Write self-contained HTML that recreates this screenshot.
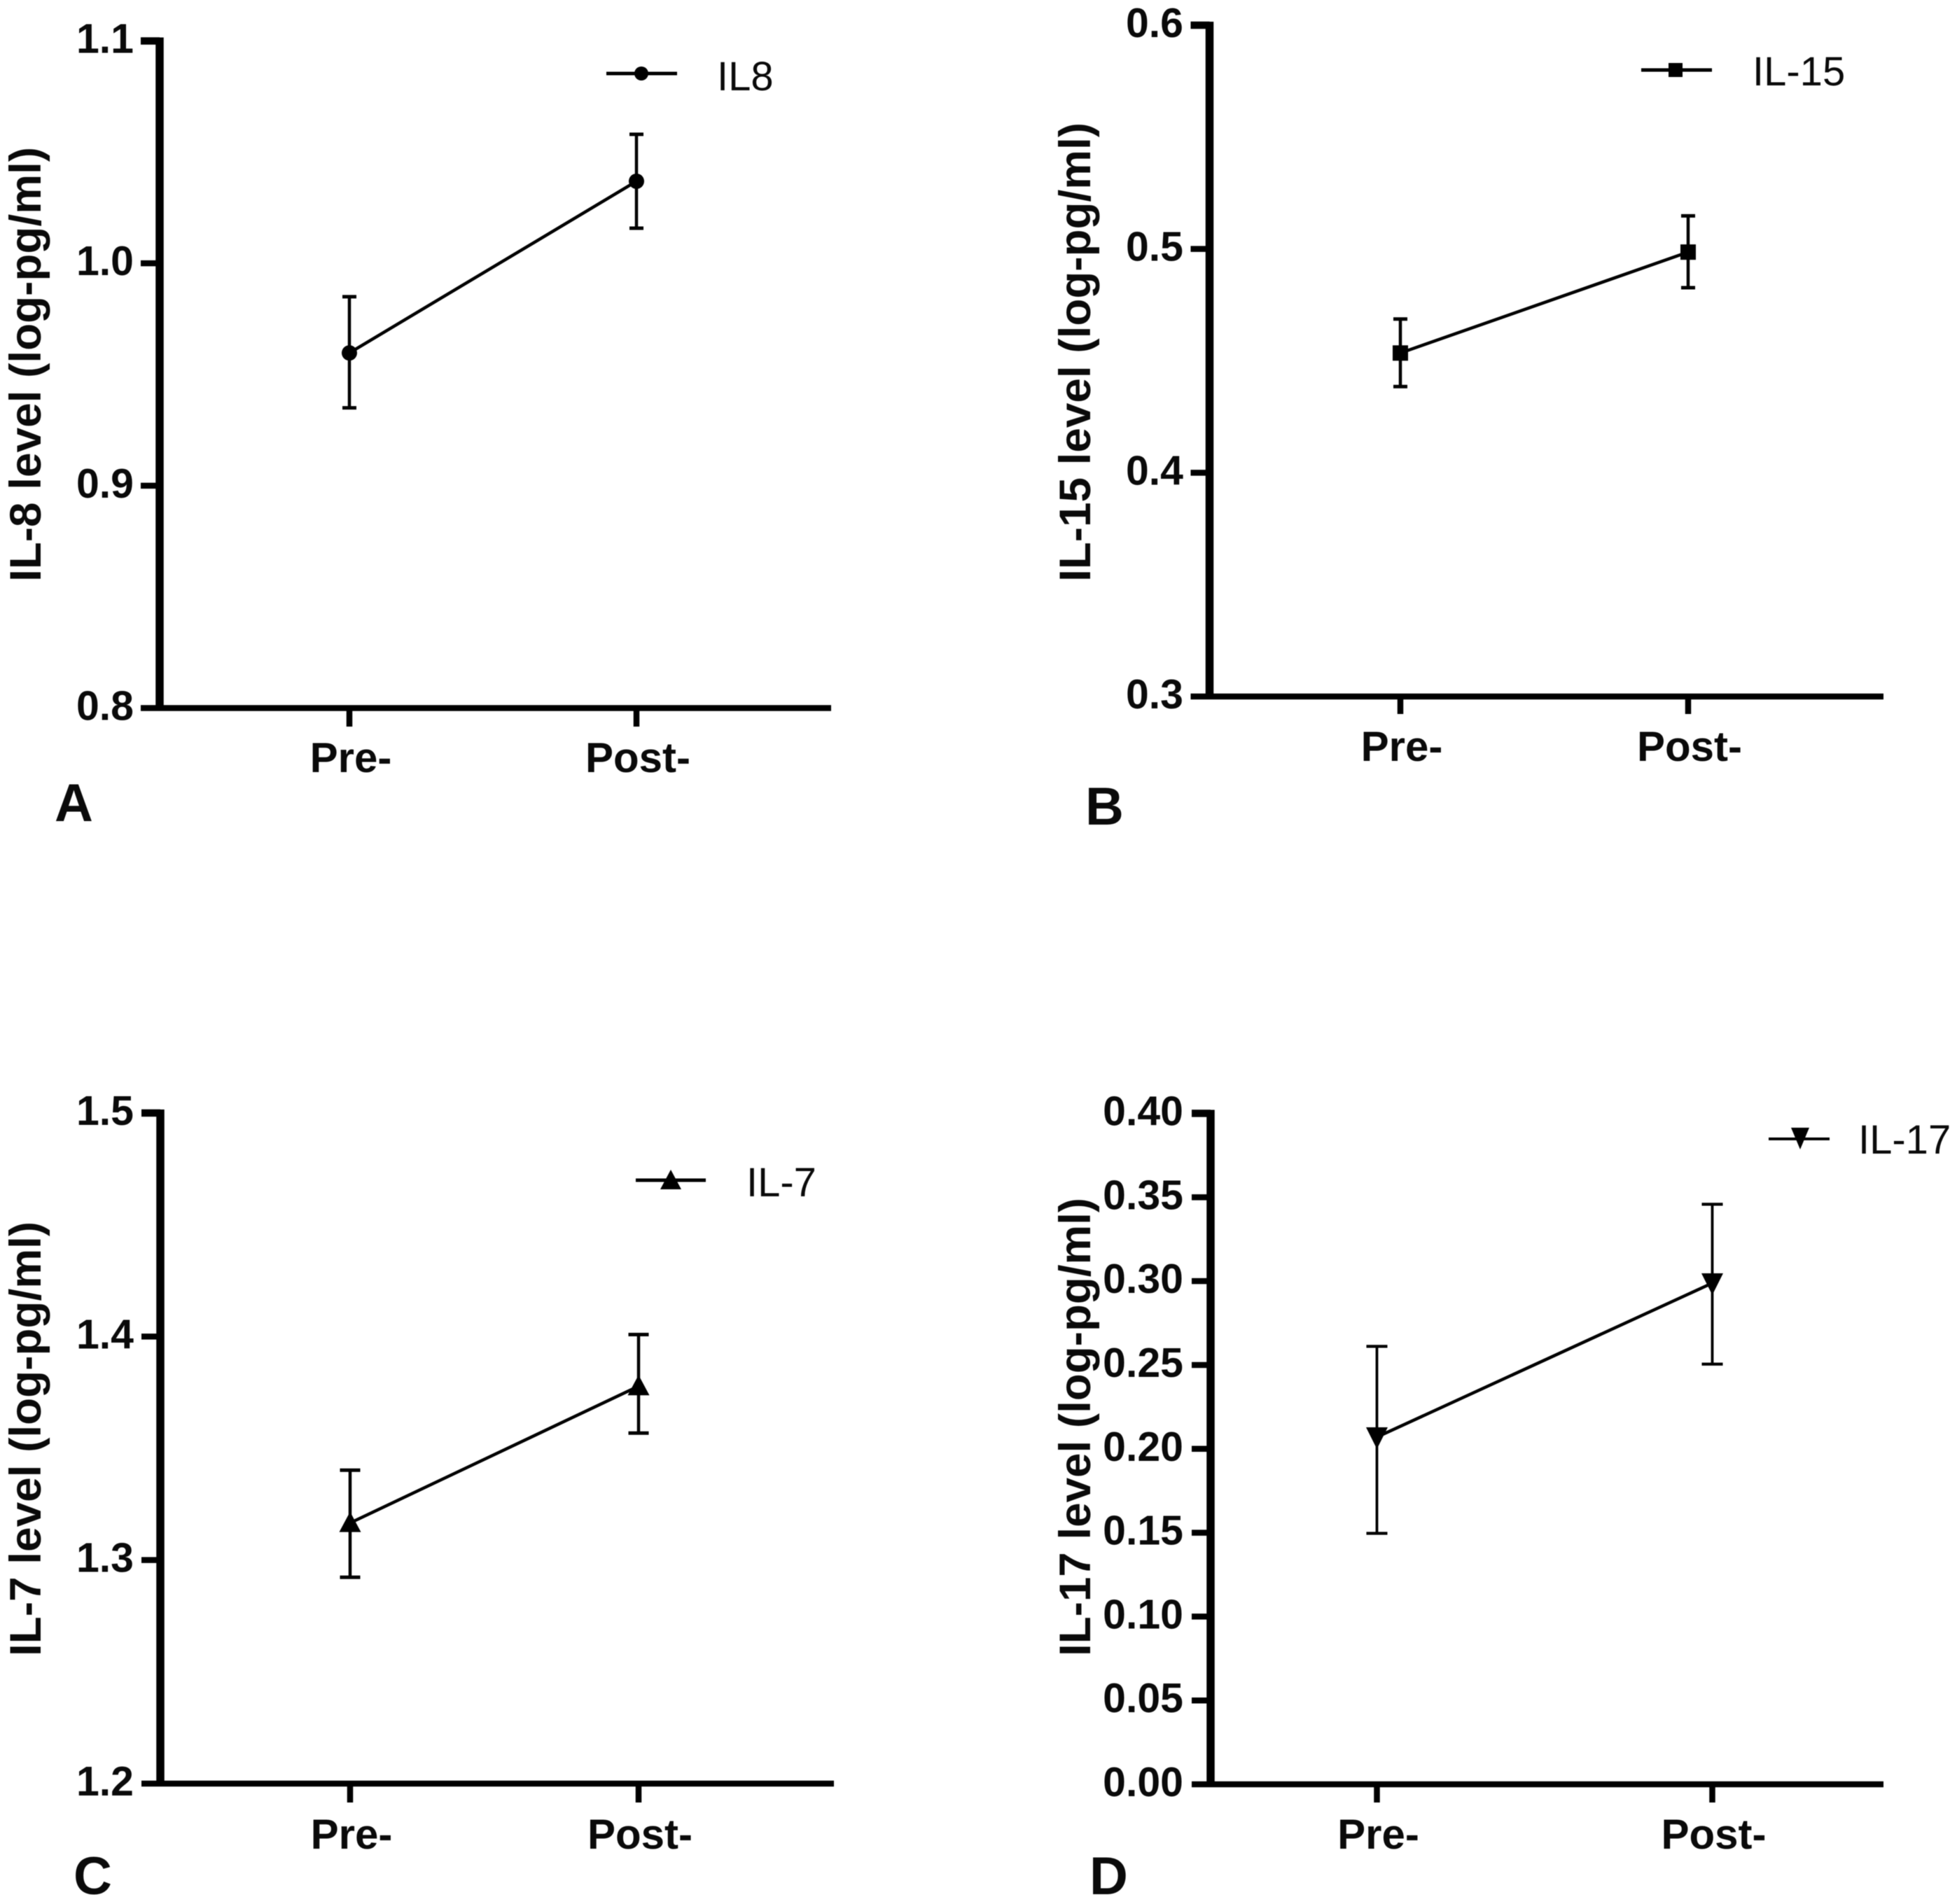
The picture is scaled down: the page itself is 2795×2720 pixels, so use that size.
<!DOCTYPE html>
<html lang="en">
<head>
<meta charset="utf-8">
<title>Cytokine levels pre and post</title>
<style>
  html, body { margin: 0; padding: 0; background: #fff; }
  svg { display: block; filter: blur(0.6px); }
  text { font-family: "Liberation Sans", Arial, sans-serif; fill: #0a0a0a; }
  .title { font-size: 63px; font-weight: 700; }
  .letter { font-size: 76px; font-weight: 700; }
  .legend { font-size: 58px; font-weight: 400; }
  .tick { font-size: 59px; font-weight: 700; text-anchor: end; }
  .cat { font-size: 60px; font-weight: 700; text-anchor: middle; }
</style>
</head>
<body>
<svg id="figure" xmlns="http://www.w3.org/2000/svg" width="2795" height="2720" viewBox="0 0 2795 2720">
  <rect x="0" y="0" width="2795" height="2720" fill="#fff"/>

  <g id="panel-a">
    <text class="title" transform="translate(58,831) rotate(-90)" textLength="621" lengthAdjust="spacingAndGlyphs">IL-8 level (log-pg/ml)</text>
    <line x1="866" y1="105" x2="967" y2="105" stroke="#000" stroke-width="5"/>
    <circle cx="916" cy="105" r="10" fill="#000"/>
    <text class="legend" x="1024" y="129">IL8</text>
    <text class="letter" x="78" y="1173">A</text>
  </g>

  <g id="panel-b">
    <text class="title" transform="translate(1557,831) rotate(-90)" textLength="656" lengthAdjust="spacingAndGlyphs">IL-15 level (log-pg/ml)</text>
    <line x1="2344" y1="100" x2="2445" y2="100" stroke="#000" stroke-width="5"/>
    <rect x="2383" y="90" width="20" height="20" fill="#000"/>
    <text class="legend" x="2503" y="122">IL-15</text>
    <text class="letter" x="1550" y="1178">B</text>
  </g>

  <g id="panel-c">
    <text class="title" transform="translate(58,2366) rotate(-90)" textLength="621" lengthAdjust="spacingAndGlyphs">IL-7 level (log-pg/ml)</text>
    <line x1="908" y1="1686" x2="1008" y2="1686" stroke="#000" stroke-width="5"/>
    <polygon points="958,1671 973,1699 943,1699" fill="#000"/>
    <text class="legend" x="1066" y="1709">IL-7</text>
    <text class="letter" x="105" y="2706">C</text>
  </g>

  <g id="panel-d">
    <text class="title" transform="translate(1557,2366) rotate(-90)" textLength="655" lengthAdjust="spacingAndGlyphs">IL-17 level (log-pg/ml)</text>
    <line x1="2526" y1="1627" x2="2613" y2="1627" stroke="#000" stroke-width="4"/>
    <polygon points="2558,1611 2584,1611 2571,1642" fill="#000"/>
    <text class="legend" x="2654" y="1648">IL-17</text>
    <text class="letter" x="1556" y="2706">D</text>
  </g>
</svg>

<script>
// Shared categories
const categories = ['Pre-', 'Post-'];

// Panel A: IL-8
const il8TickLabels = ['0.8', '0.9', '1.0', '1.1'];
const il8Mean = [0.9597, 1.0369];
const il8Upper = [0.985, 1.058];
const il8Lower = [0.935, 1.0158];

// Panel B: IL-15
const il15TickLabels = ['0.3', '0.4', '0.5', '0.6'];
const il15Mean = [0.4535, 0.4986];
const il15Upper = [0.4687, 0.5148];
const il15Lower = [0.4385, 0.4827];

// Panel C: IL-7
const il7TickLabels = ['1.2', '1.3', '1.4', '1.5'];
const il7Mean = [1.3166, 1.3778];
const il7Upper = [1.3402, 1.4009];
const il7Lower = [1.2923, 1.3568];

// Panel D: IL-17
const il17TickLabels = ['0.00', '0.05', '0.10', '0.15', '0.20', '0.25', '0.30', '0.35', '0.40'];
const il17Mean = [0.207, 0.2988];
const il17Upper = [0.2611, 0.3458];
const il17Lower = [0.1496, 0.2505];

const SVG_NS = 'http://www.w3.org/2000/svg';

function make(tag, parent) {
  const el = document.createElementNS(SVG_NS, tag);
  parent.appendChild(el);
  return el;
}

function setLine(el, x1, y1, x2, y2, width) {
  el.setAttribute('x1', x1);
  el.setAttribute('y1', y1);
  el.setAttribute('x2', x2);
  el.setAttribute('y2', y2);
  el.setAttribute('stroke', '#000');
  el.setAttribute('stroke-width', width);
}

function drawMarker(parent, kind, cx, cy, label) {
  let el;
  if (kind === 'circle') {
    el = make('circle', parent);
    el.setAttribute('cx', cx);
    el.setAttribute('cy', cy);
    el.setAttribute('r', 11);
  } else if (kind === 'square') {
    el = make('rect', parent);
    el.setAttribute('x', cx - 11);
    el.setAttribute('y', cy - 11);
    el.setAttribute('width', 22);
    el.setAttribute('height', 22);
  } else if (kind === 'up') {
    el = make('polygon', parent);
    el.setAttribute('points', (cx) + ',' + (cy - 16) + ' ' + (cx + 15.5) + ',' + (cy + 13) + ' ' + (cx - 15.5) + ',' + (cy + 13));
  } else {
    el = make('polygon', parent);
    el.setAttribute('points', (cx - 15.5) + ',' + (cy - 14) + ' ' + (cx + 15.5) + ',' + (cy - 14) + ' ' + cx + ',' + (cy + 17));
  }
  el.setAttribute('fill', '#000');
  
  
}

function drawPanel(cfg) {
  const group = document.getElementById(cfg.id);
  const numericTicks = cfg.tickLabels.map(Number);
  const domainMin = Math.min.apply(null, numericTicks);
  const domainMax = Math.max.apply(null, numericTicks);
  const yScale = function (v) {
    return cfg.bottom - (v - domainMin) / (domainMax - domainMin) * (cfg.bottom - cfg.top);
  };
  const xScale = function (i) {
    return cfg.xFirst + i * (cfg.xLast - cfg.xFirst) / (categories.length - 1);
  };

  // Y axis
  const yAxis = make('line', group);
  setLine(yAxis, cfg.left, yScale(domainMax) - 5, cfg.left, cfg.bottom + 4, 11.5);
  
  

  // X axis
  const xAxis = make('line', group);
  setLine(xAxis, cfg.left, cfg.bottom, cfg.right, cfg.bottom, 8.5);
  
  

  // Y ticks and labels
  cfg.tickLabels.forEach(function (label, i) {
    const y = yScale(numericTicks[i]);
    const tick = make('line', group);
    setLine(tick, cfg.left - 27, y, cfg.left, y, numericTicks[i] === domainMax ? 10.5 : 8.5);
    
    
    const text = make('text', group);
    text.setAttribute('class', 'tick');
    text.setAttribute('x', cfg.tickLabelEnd);
    text.setAttribute('y', y + 17);
    text.textContent = label;
    
    
  });

  // X ticks and labels
  categories.forEach(function (label, i) {
    const x = xScale(i);
    const tick = make('line', group);
    setLine(tick, x, cfg.bottom, x, cfg.tickBottom, 8.5);
    
    
    const text = make('text', group);
    text.setAttribute('class', 'cat');
    text.setAttribute('x', x + 2);
    text.setAttribute('y', cfg.catBaseline);
    text.textContent = label;
    
    
  });

  // Connecting line
  const trend = make('polyline', group);
  trend.setAttribute('points', cfg.mean.map(function (v, i) { return xScale(i) + ',' + yScale(v); }).join(' '));
  trend.setAttribute('fill', 'none');
  trend.setAttribute('stroke', '#000');
  trend.setAttribute('stroke-width', 4.5);
  
  

  // Error bars and markers
  categories.forEach(function (label, i) {
    const x = xScale(i);
    const top = yScale(cfg.upper[i]);
    const bottom = yScale(cfg.lower[i]);
    const stem = make('line', group);
    setLine(stem, x, top, x, bottom, cfg.barWidth);
    
    
    const capTop = make('line', group);
    setLine(capTop, x - cfg.capHalf, top, x + cfg.capHalf, top, cfg.barWidth + 0.5);
    
    
    const capBottom = make('line', group);
    setLine(capBottom, x - cfg.capHalf, bottom, x + cfg.capHalf, bottom, cfg.barWidth + 0.5);
    
    
    drawMarker(group, cfg.marker, x, yScale(cfg.mean[i]), label);
  });
}

drawPanel({ id: 'panel-a', tickLabels: il8TickLabels, mean: il8Mean, upper: il8Upper, lower: il8Lower,
  left: 228, right: 1187, top: 58.5, bottom: 1011.5, xFirst: 499, xLast: 909,
  tickBottom: 1038, catBaseline: 1103, tickLabelEnd: 191, marker: 'circle', capHalf: 10, barWidth: 4.5 });
drawPanel({ id: 'panel-b', tickLabels: il15TickLabels, mean: il15Mean, upper: il15Upper, lower: il15Lower,
  left: 1727.5, right: 2690, top: 36, bottom: 995, xFirst: 2000, xLast: 2411,
  tickBottom: 1020, catBaseline: 1087, tickLabelEnd: 1690, marker: 'square', capHalf: 10, barWidth: 4.5 });
drawPanel({ id: 'panel-c', tickLabels: il7TickLabels, mean: il7Mean, upper: il7Upper, lower: il7Lower,
  left: 229, right: 1191, top: 1590, bottom: 2548, xFirst: 500, xLast: 912,
  tickBottom: 2575, catBaseline: 2641, tickLabelEnd: 191, marker: 'up', capHalf: 14.5, barWidth: 4.5 });
drawPanel({ id: 'panel-d', tickLabels: il17TickLabels, mean: il17Mean, upper: il17Upper, lower: il17Lower,
  left: 1729, right: 2690, top: 1590.5, bottom: 2549, xFirst: 1966.5, xLast: 2445.5,
  tickBottom: 2575, catBaseline: 2641, tickLabelEnd: 1690, marker: 'down', capHalf: 15, barWidth: 3.8 });
</script>
</body>
</html>
